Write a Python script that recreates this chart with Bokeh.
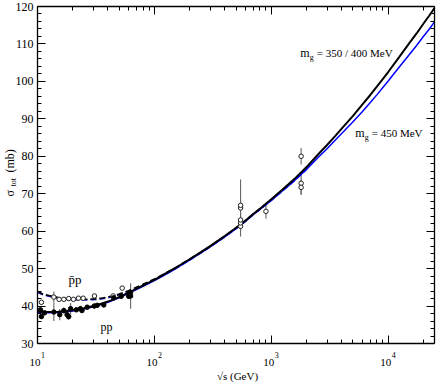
import math
from bokeh.plotting import figure
from bokeh.models import LogAxis, LinearAxis, FixedTicker, Label, Range1d, ColumnDataSource
from bokeh.embed import file_html
from bokeh.resources import INLINE

# ---- model curves (sqrt(s) in GeV, sigma_tot in mb) ----
sqrt_s = [10, 11, 12.5, 15, 17.5, 20, 25, 30, 35, 40, 50, 60, 70, 80, 100, 125, 150,
          200, 250, 300, 400, 500, 600, 700, 800, 1000, 1250, 1500, 1750, 2000, 2500,
          3000, 3500, 4000, 5000, 6000, 7000, 8000, 10000, 12500, 15000, 17500, 20000,
          22500, 24900]
sigma_pp_350 = [38.6, 38.5, 38.4, 38.5, 38.7, 38.9, 39.4, 40.0, 40.6, 41.2, 42.4, 43.6,
                44.6, 45.5, 47.0, 48.7, 50.1, 52.5, 54.4, 56.0, 58.7, 60.9, 62.8, 64.6,
                66.0, 68.5, 71.1, 73.3, 75.3, 77.1, 80.4, 83.0, 85.3, 87.4, 90.8, 93.8,
                96.3, 98.6, 102.5, 106.6, 110.0, 112.8, 115.4, 117.6, 119.6]
sigma_pp_450 = [38.4, 38.3, 38.2, 38.3, 38.5, 38.7, 39.2, 39.8, 40.4, 41.0, 42.2, 43.4,
                44.4, 45.3, 46.8, 48.5, 49.9, 52.3, 54.2, 55.8, 58.5, 60.7, 62.6, 64.4,
                65.8, 68.2, 70.8, 72.9, 74.8, 76.5, 79.6, 82.0, 84.2, 86.1, 89.2, 91.9,
                94.3, 96.4, 100.1, 103.9, 107.0, 109.6, 112.0, 114.0, 115.9]

sqrt_s_pbar = [10, 11, 12.5, 15, 17.5, 20, 25, 30, 35, 40, 50, 60, 70, 80, 100, 125, 150,
               200, 250, 300, 400, 500, 600, 700, 800, 1000, 1250, 1500, 1750, 2000]
sigma_pbar_350 = [43.9, 43.3, 42.8, 42.3, 42.0, 41.9, 41.8, 41.9, 42.1, 42.4, 43.2, 44.1,
                  45.0, 45.8, 47.2, 48.8, 50.2, 52.5, 54.4, 56.0, 58.7, 60.9, 62.8, 64.6,
                  66.0, 68.5, 71.1, 73.3, 75.3, 77.1]
sigma_pbar_450 = [43.7, 43.1, 42.6, 42.1, 41.8, 41.7, 41.6, 41.7, 41.9, 42.2, 43.0, 43.9,
                  44.8, 45.6, 47.0, 48.5, 49.9, 52.3, 54.2, 55.8, 58.5, 60.7, 62.6, 64.4,
                  65.8, 68.2, 70.8, 72.9, 74.8, 76.5]

# ---- data: pp (filled) ----
pp_x = [10.6, 10.8, 11.5, 13.8, 15.5, 16.8, 17.9, 18.5, 19.2, 21.5, 23.3, 24.0,
        26.6, 30.6, 32.4, 36.9, 44.9, 52.0, 60.3, 62.4, 62.6]
pp_y = [39.0, 37.2, 38.2, 38.4, 37.7, 38.8, 37.7, 37.2, 39.3, 39.0, 39.3, 38.8,
        39.7, 40.0, 40.2, 40.3, 42.2, 42.6, 42.6, 43.6, 42.7]
pp_err = [0.5, 0.6, 0.4, 2.4, 1.5, 0.8, 1.2, 0.9, 1.5, 0.5, 0.8, 0.4,
          0.4, 0.3, 0.3, 0.3, 0.4, 0.4, 0.4, 0.4, 3.4]

# ---- data: pbar-p (open) ----
pbar_x = [10.8, 13.8, 15.3, 16.8, 18.5, 20.3, 22.4, 24.6, 30.7, 44.4, 53.0,
          546, 546, 546, 546, 546, 900, 1800, 1800, 1800]
pbar_y = [41.0, 42.4, 41.8, 41.8, 42.0, 41.8, 42.1, 42.1, 42.7, 42.7, 44.8,
          61.3, 62.2, 63.0, 66.2, 66.9, 65.3, 80.0, 72.8, 71.7]
pbar_err = [0.5, 1.5, 0.5, 0.5, 0.5, 0.5, 0.5, 0.5, 0.5, 0.4, 0.5,
            0.9, 1.5, 2.1, 7.6, 1.5, 2.0, 2.2, 3.1, 2.0]

X_MIN, X_MAX = 10, 24900
Y_MIN, Y_MAX = 30, 120
x_major = [10, 100, 1000, 10000]
x_exponents = ["1", "2", "3", "4"]
x_minor = [m * d for d in [10, 100, 1000] for m in range(2, 10)] + [20000]
y_major = list(range(30, 121, 10))
y_minor = [v for v in range(30, 121, 2) if v % 10 != 0]

SERIF = "Liberation Serif"
W, H = 436, 382
# plot box inside the canvas (pixels from the canvas top-left)
BOX_L, BOX_R, BOX_T, BOX_B = 37, 434, 6, 343

# ranges chosen so that the data box [X_MIN,X_MAX]x[Y_MIN,Y_MAX] lands on the box pixels
lx0, lx1 = math.log10(X_MIN), math.log10(X_MAX)
ppd = (BOX_R - BOX_L) / (lx1 - lx0)
x_start = 10 ** (lx0 - BOX_L / ppd)
x_end = 10 ** (lx1 + (W - BOX_R) / ppd)
ppm = (BOX_B - BOX_T) / (Y_MAX - Y_MIN)
y_end = Y_MAX + BOX_T / ppm
y_start = Y_MIN - (H - BOX_B) / ppm

p = figure(width=W, height=H, x_axis_type="log",
           x_range=Range1d(x_start, x_end), y_range=Range1d(y_start, y_end),
           x_axis_location=None, y_axis_location=None,
           output_backend="svg", toolbar_location=None,
           min_border_left=0, min_border_right=0, min_border_top=0, min_border_bottom=0)
p.grid.visible = False
p.outline_line_color = None
p.background_fill_color = "white"
p.border_fill_color = "white"

xt = FixedTicker(ticks=x_major, minor_ticks=x_minor)
yt = FixedTicker(ticks=y_major, minor_ticks=y_minor)


def style(ax):
    ax.major_tick_in = 8
    ax.major_tick_out = 0
    ax.minor_tick_in = 4
    ax.minor_tick_out = 0
    ax.axis_line_color = "black"
    ax.axis_line_width = 1.3
    ax.major_tick_line_color = "black"
    ax.minor_tick_line_color = "black"
    ax.major_label_text_font_size = "1px"
    ax.major_label_text_alpha = 0
    ax.major_label_standoff = 0
    return ax


p.add_layout(style(LinearAxis(ticker=yt, fixed_location=X_MIN, bounds=(Y_MIN, Y_MAX))), "left")
p.add_layout(style(LinearAxis(ticker=yt, fixed_location=X_MAX, bounds=(Y_MIN, Y_MAX))), "right")
p.add_layout(style(LogAxis(ticker=xt, fixed_location=Y_MIN, bounds=(X_MIN, X_MAX))), "below")
p.add_layout(style(LogAxis(ticker=xt, fixed_location=Y_MAX, bounds=(X_MIN, X_MAX))), "above")

# error bars
pp_src = ColumnDataSource(dict(x=pp_x, y=pp_y,
                               lo=[a - b for a, b in zip(pp_y, pp_err)],
                               hi=[a + b for a, b in zip(pp_y, pp_err)]))
pb_src = ColumnDataSource(dict(x=pbar_x, y=pbar_y,
                               lo=[a - b for a, b in zip(pbar_y, pbar_err)],
                               hi=[a + b for a, b in zip(pbar_y, pbar_err)]))
p.segment(x0="x", y0="lo", x1="x", y1="hi", source=pp_src, line_color="#666666", line_width=1.1)
p.segment(x0="x", y0="lo", x1="x", y1="hi", source=pb_src, line_color="#666666", line_width=1.1)

# curves
p.line(sqrt_s_pbar, sigma_pbar_450, line_color="#1a1acc", line_width=1.6, line_dash="6 3")
p.line(sqrt_s_pbar, sigma_pbar_350, line_color="black", line_width=1.6, line_dash="6 3")
p.line(sqrt_s, sigma_pp_450, line_color="#0000ff", line_width=1.5)
p.line(sqrt_s, sigma_pp_350, line_color="black", line_width=2)

# markers
p.scatter("x", "y", source=pb_src, size=4.5, marker="circle", fill_color="white",
          line_color="#222222", line_width=1)
p.scatter("x", "y", source=pp_src, size=4.5, marker="circle", fill_color="black",
          line_color="black")

# y tick labels
for v in y_major:
    p.add_layout(Label(x=X_MIN, y=v, text=str(v), text_align="right", text_baseline="middle",
                       x_offset=-4, text_font=SERIF, text_font_size="12px", text_color="black"))

# x tick labels (10^n); screen y measured from the bottom of the frame (= canvas)
for t, e in zip(x_major, x_exponents):
    p.add_layout(Label(x=t, y=H - BOX_B - 19, x_units="data", y_units="screen", text="10",
                       text_align="right", text_baseline="alphabetic", x_offset=3,
                       text_font=SERIF, text_font_size="11px", text_color="black"))
    p.add_layout(Label(x=t, y=H - BOX_B - 11, x_units="data", y_units="screen", text=e,
                       text_align="left", text_baseline="alphabetic", x_offset=3.5,
                       text_font=SERIF, text_font_size="8px", text_color="black"))

# axis titles
p.add_layout(Label(x=514, y=H - BOX_B - 32, x_units="data", y_units="screen",
                   text="\u221As (GeV)", text_align="center", text_baseline="alphabetic",
                   text_font=SERIF, text_font_size="11px", text_color="black"))
ang = math.pi / 2
p.add_layout(Label(x=9.5, y=186, x_units="screen", y_units="screen", text="\u03c3",
                   angle=ang, text_align="left", text_baseline="alphabetic",
                   text_font=SERIF, text_font_size="12px", text_color="black"))
p.add_layout(Label(x=12.5, y=196, x_units="screen", y_units="screen", text="tot",
                   angle=ang, text_align="left", text_baseline="alphabetic",
                   text_font=SERIF, text_font_size="8px", text_color="black"))
p.add_layout(Label(x=9.5, y=210, x_units="screen", y_units="screen", text="(mb)",
                   angle=ang, text_align="left", text_baseline="alphabetic",
                   text_font=SERIF, text_font_size="12px", text_color="black"))

# curve annotations
def mlabel(x, y, rest):
    p.add_layout(Label(x=x, y=y, text="m", text_align="left", text_baseline="alphabetic",
                       text_font=SERIF, text_font_size="12px", text_color="black"))
    p.add_layout(Label(x=x, y=y, text="g", x_offset=9.5, y_offset=-4, text_align="left",
                       text_baseline="alphabetic", text_font=SERIF, text_font_size="8px",
                       text_color="black"))
    p.add_layout(Label(x=x, y=y, text=rest, x_offset=16.5, text_align="left",
                       text_baseline="alphabetic", text_font=SERIF, text_font_size="11px",
                       text_color="black"))

mlabel(1770, 107.5, "= 350 / 400 MeV")
mlabel(5220, 86.1, "= 450 MeV")

p.add_layout(Label(x=18.4, y=47.1, text="p\u0304p", text_align="left", text_baseline="alphabetic",
                   text_font=SERIF, text_font_size="13px", text_color="black"))
p.add_layout(Label(x=34.6, y=34.3, text="pp", text_align="left", text_baseline="alphabetic",
                   text_font=SERIF, text_font_size="12px", text_color="black"))

open("out.html", "w").write(file_html(p, INLINE))
